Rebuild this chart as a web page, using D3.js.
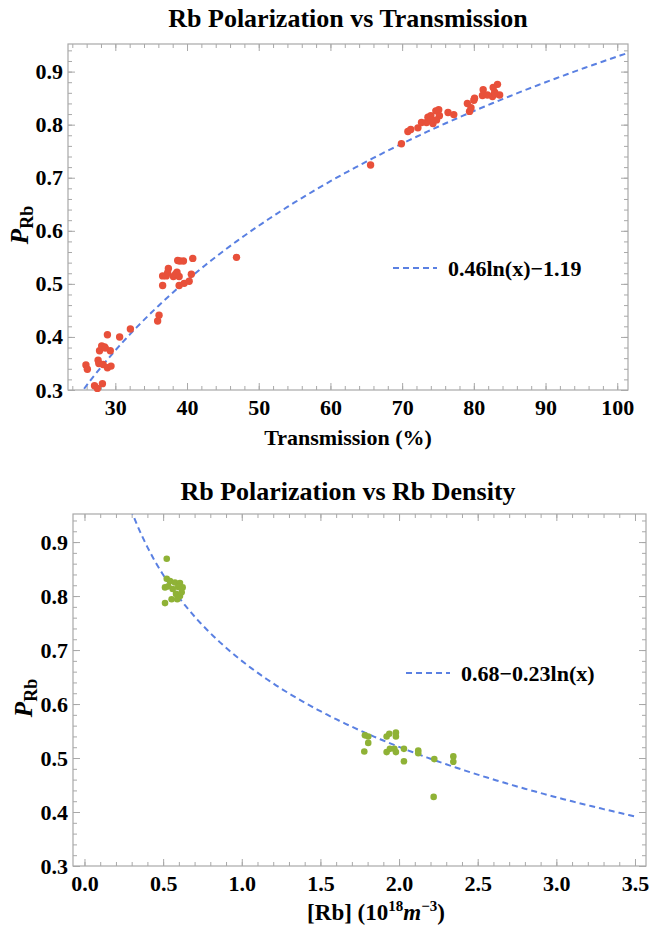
<!DOCTYPE html>
<html>
<head>
<meta charset="utf-8">
<script src="https://cdn.jsdelivr.net/npm/d3@7"></script>
<style>
  body { margin: 0; background: #fff; }
  svg text { font-family: "Liberation Serif", "DejaVu Serif", serif; font-weight: bold; }
</style>
</head>
<body>
<div id="chart"></div>
<script>
// top panel: transmission (%) vs Rb polarization
var transX = [25.9, 26.1, 27.1, 27.5, 28.2, 27.6, 27.7, 28.3, 28.9, 29.4, 27.8, 28.1, 28.5, 28.9, 29.3, 28.6,
  30.6, 32.1, 35.9, 36.1, 36.6, 36.6, 37.1, 37.4, 37.3, 38.1, 38.6, 38.7, 39.0, 39.5, 38.9, 38.9, 39.6,
  40.3, 40.6, 40.8, 46.9, 38.4,
  65.6, 69.9, 70.8, 71.2, 72.2, 72.7, 73.4, 73.6, 74.0, 74.3, 74.7, 75.1, 75.2, 74.8, 74.0, 76.4, 77.2,
  79.1, 79.4, 79.6, 80.0, 80.1, 81.3, 81.2, 81.9, 82.6, 82.7, 83.3, 82.9, 83.6, 83.0];
var transP = [0.347, 0.339, 0.308, 0.303, 0.312, 0.356, 0.350, 0.348, 0.342, 0.345, 0.374, 0.383, 0.381, 0.404, 0.374, 0.379,
  0.400, 0.415, 0.430, 0.441, 0.497, 0.515, 0.515, 0.529, 0.521, 0.514, 0.522, 0.544, 0.543, 0.543, 0.514, 0.497, 0.501,
  0.505, 0.518, 0.548, 0.550, 0.518,
  0.724, 0.764, 0.787, 0.791, 0.794, 0.804, 0.804, 0.814, 0.817, 0.802, 0.826, 0.828, 0.817, 0.809, 0.808, 0.823, 0.819,
  0.840, 0.825, 0.832, 0.846, 0.850, 0.866, 0.855, 0.856, 0.853, 0.870, 0.876, 0.861, 0.856, 0.858];

// bottom panel: Rb density vs Rb polarization
var densX = [0.523, 0.512, 0.523, 0.512, 0.544, 0.575, 0.607, 0.624, 0.561, 0.582, 0.607, 0.590, 0.554, 0.618, 0.533, 0.596,
  1.783, 1.804, 1.804, 1.779, 1.921, 1.938, 1.980, 1.980, 1.921, 1.942, 1.970, 1.980, 2.031, 2.031, 2.122, 2.122,
  2.224, 2.345, 2.345, 2.22];
var densP = [0.869, 0.787, 0.832, 0.816, 0.828, 0.825, 0.824, 0.816, 0.813, 0.804, 0.800, 0.794, 0.794, 0.807, 0.818, 0.817,
  0.542, 0.540, 0.528, 0.512, 0.540, 0.545, 0.547, 0.540, 0.511, 0.517, 0.517, 0.511, 0.517, 0.494, 0.514, 0.509,
  0.498, 0.503, 0.493, 0.428];

// fit coefficients
var fitTrans = [0.46, -1.19];   // a*ln(x)+b
var fitDens = [0.68, -0.23];    // a+b*ln(x)

var yMajor = [0.3, 0.4, 0.5, 0.6, 0.7, 0.8, 0.9];
var transMajor = [30, 40, 50, 60, 70, 80, 90, 100];
var densMajor = [0, 0.5, 1, 1.5, 2, 2.5, 3, 3.5];

var width = 652, height = 927;
var blue = '#5a80e2', red = '#e8503a', green = '#8fb236', frameColor = '#a8a8a8';
var serif = '"Liberation Serif", "DejaVu Serif", serif';

var svg = d3.select('#chart').append('svg')
  .attr('width', width)
  .attr('height', height)
  .attr('font-family', serif)
  .style('background', '#fff');

function range(a, b, s) {
  var out = [];
  for (var v = a; v <= b + 1e-9; v += s) out.push(+v.toFixed(4));
  return out;
}

function panel(opt) {
  var g = svg.append('g');
  var x = d3.scaleLinear().domain(opt.xDomain).range([opt.left, opt.right]);
  var y = d3.scaleLinear().domain([0.3, 0.952]).range([opt.bottom, opt.top]);
  var w = opt.right - opt.left, h = opt.bottom - opt.top;

  var clipId = 'clip' + opt.id;
  g.append('clipPath').attr('id', clipId)
    .append('rect').attr('x', opt.left).attr('y', opt.top).attr('width', w).attr('height', h);

  // minor ticks on all four sides
  var xMinor = range(opt.xMinor[0], opt.xMinor[1], opt.xMinor[2]);
  var yMinor = range(0.3, 0.95, 0.02);
  var minors = [
    [d3.axisBottom(x), 'translate(0,' + opt.bottom + ')', xMinor],
    [d3.axisTop(x), 'translate(0,' + opt.top + ')', xMinor],
    [d3.axisLeft(y), 'translate(' + opt.left + ',0)', yMinor],
    [d3.axisRight(y), 'translate(' + opt.right + ',0)', yMinor]
  ];
  minors.forEach(function (a) {
    var m = g.append('g').attr('transform', a[1])
      .call(a[0].tickValues(a[2]).tickSize(-4).tickFormat(''));
    m.select('.domain').remove();
    m.selectAll('line').attr('stroke', frameColor);
  });

  var xAxis = g.append('g').attr('transform', 'translate(0,' + opt.bottom + ')')
    .call(d3.axisBottom(x).tickValues(opt.xMajor).tickSize(-7).tickPadding(9).tickFormat(opt.xFormat));
  var xTop = g.append('g').attr('transform', 'translate(0,' + opt.top + ')')
    .call(d3.axisTop(x).tickValues(opt.xMajor).tickSize(-7).tickFormat(''));
  var yAxis = g.append('g').attr('transform', 'translate(' + opt.left + ',0)')
    .call(d3.axisLeft(y).tickValues(yMajor).tickSize(-7).tickPadding(5).tickFormat(d3.format('.1f')));
  var yRight = g.append('g').attr('transform', 'translate(' + opt.right + ',0)')
    .call(d3.axisRight(y).tickValues(yMajor).tickSize(-7).tickFormat(''));
  [xAxis, xTop, yAxis, yRight].forEach(function (a) {
    a.attr('font-family', serif).attr('font-size', 22);
    a.select('.domain').remove();
    a.selectAll('line').attr('stroke', frameColor);
    a.selectAll('text').attr('fill', '#000').attr('font-weight', 'bold');
  });

  g.append('rect')
    .attr('x', opt.left).attr('y', opt.top).attr('width', w).attr('height', h)
    .attr('fill', 'none').attr('stroke', frameColor).attr('stroke-width', 1.2);

  // fit curve
  var xs = range(opt.curve[0], opt.curve[1], opt.curve[2]);
  var line = d3.line().x(function (d) { return x(d); }).y(function (d) { return y(opt.fit(d)); });
  g.append('path').datum(xs)
    .attr('clip-path', 'url(#' + clipId + ')')
    .attr('d', line)
    .attr('fill', 'none').attr('stroke', blue).attr('stroke-width', 2)
    .attr('stroke-dasharray', '6,4');

  // data points
  g.selectAll('circle.pt').data(opt.xs)
    .enter().append('circle')
    .attr('class', 'pt')
    .attr('cx', function (d) { return x(d); })
    .attr('cy', function (d, i) { return y(opt.ys[i]); })
    .attr('r', opt.r)
    .attr('fill', opt.color);

  // title
  g.append('text').attr('x', 348).attr('y', opt.titleY)
    .attr('text-anchor', 'middle').attr('font-size', 26).text(opt.title);

  // y label
  var yl = g.append('text')
    .attr('transform', 'translate(' + opt.yLabelX + ',' + ((opt.top + opt.bottom) / 2 + 8) + ') rotate(-90)')
    .attr('text-anchor', 'middle').attr('font-size', 25);
  yl.append('tspan').attr('font-style', 'italic').text('P');
  yl.append('tspan').attr('dy', 5).attr('font-size', 18).text('Rb');

  // legend
  g.append('line')
    .attr('x1', opt.legend[0]).attr('x2', opt.legend[0] + 44)
    .attr('y1', opt.legend[1]).attr('y2', opt.legend[1])
    .attr('stroke', blue).attr('stroke-width', 2).attr('stroke-dasharray', '6,4');
  g.append('text').attr('x', opt.legend[0] + 55).attr('y', opt.legend[1] + 8)
    .attr('font-size', 22).text(opt.legendText);

  return g;
}

var g1 = panel({
  id: 1, left: 68, right: 628, top: 44, bottom: 390,
  xDomain: [23.4, 101.5], xMajor: transMajor, xMinor: [24, 100, 2], xFormat: d3.format('d'),
  xs: transX, ys: transP, color: red, r: 3.7,
  fit: function (t) { return fitTrans[0] * Math.log(t) + fitTrans[1]; },
  curve: [24, 101.5, 0.5],
  title: 'Rb Polarization vs Transmission', titleY: 27, yLabelX: 28,
  legend: [393, 268], legendText: '0.46ln(x)\u22121.19'
});
g1.append('text').attr('x', 348).attr('y', 445).attr('text-anchor', 'middle')
  .attr('font-size', 22).text('Transmission (%)');

var g2 = panel({
  id: 2, left: 73, right: 646, top: 514, bottom: 866,
  xDomain: [-0.073, 3.57], xMajor: densMajor, xMinor: [0, 3.5, 0.1], xFormat: d3.format('.1f'),
  xs: densX, ys: densP, color: green, r: 3.3,
  fit: function (t) { return fitDens[0] + fitDens[1] * Math.log(t); },
  curve: [0.2, 3.5, 0.02],
  title: 'Rb Polarization vs Rb Density', titleY: 500, yLabelX: 32,
  legend: [406, 673], legendText: '0.68\u22120.23ln(x)'
});
var xl = g2.append('text').attr('x', 376).attr('y', 920).attr('text-anchor', 'middle')
  .attr('font-size', 23);
xl.append('tspan').text('[Rb] (10');
xl.append('tspan').attr('dy', -9).attr('font-size', 15).text('18');
xl.append('tspan').attr('dy', 9).attr('font-style', 'italic').text('m');
xl.append('tspan').attr('dy', -9).attr('font-size', 15).text('\u22123');
xl.append('tspan').attr('dy', 9).text(')');
</script>
</body>
</html>
